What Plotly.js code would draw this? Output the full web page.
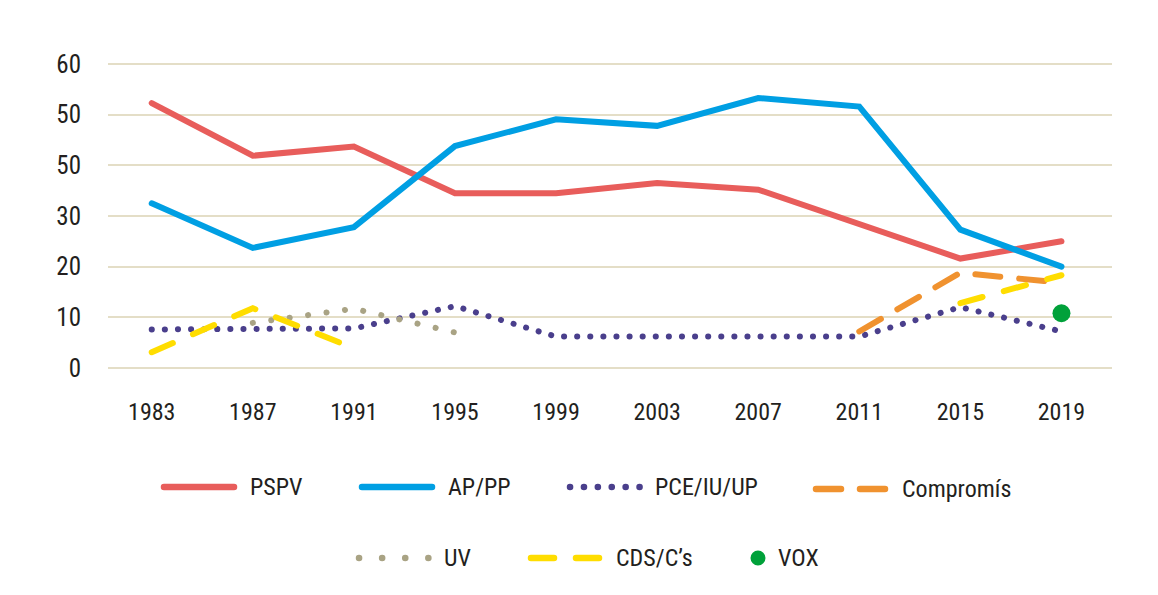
<!DOCTYPE html>
<html>
<head>
<meta charset="utf-8">
<script src="https://cdn.plot.ly/plotly-3.0.1.min.js"></script>
<style>
  html, body { margin: 0; padding: 0; background: #ffffff; }
  #chart { width: 1158px; height: 595px; }
</style>
</head>
<body>
<div id="chart"></div>
<script>
// ---- Data ----
const years = [1983, 1987, 1991, 1995, 1999, 2003, 2007, 2011, 2015, 2019];
const pspv      = [52.3, 41.9, 43.7, 34.5, 34.5, 36.5, 35.2, 28.5, 21.6, 25.0];
const appp      = [32.5, 23.7, 27.8, 43.8, 49.1, 47.8, 53.3, 51.6, 27.3, 20.0];
const pceIuUp   = [7.6, 7.7, 7.8, 12.2, 6.2, 6.2, 6.2, 6.2, 12.0, 7.2];
const uv        = [null, 8.9, 11.7, 7.0, null, null, null, null, null, null];
const compromis = [null, null, null, null, null, null, null, 7.2, 18.8, 16.8];
const cdsCs     = [3.1, 11.8, 3.9, null, null, null, null, null, 12.8, 18.3];
const vox       = [null, null, null, null, null, null, null, null, null, 10.8];

const yTickVals = [0, 10, 20, 30, 40, 50, 60];
const yTickText = ['0', '10', '20', '30', '50', '50', '60'];

const seriesNames = ['PSPV', 'AP/PP', 'PCE/IU/UP', 'Compromís', 'UV', 'CDS/C’s', 'VOX'];

// ---- Styles ----
const FONT = '"Roboto Condensed", "Liberation Sans Narrow", "DejaVu Sans Condensed", "Arial Narrow", Roboto, sans-serif';
const TXT = '#231f20';
const C = {
  pspv: '#e85d5b', appp: '#009fe3', pce: '#4a3f8c', comp: '#f0922f',
  uv: '#a9a384', cds: '#ffdd00', vox: '#00a13a'
};
const DOT_PCE = '0.1px,13px';
const DOT_UV = '0.1px,18.5px';
const DASH_CDS = '23px,22px';
const DASH_COMP = '25px,19px';

const traces = [
  {x: years, y: pspv, name: seriesNames[0], mode: 'lines', line: {color: C.pspv, width: 6}},
  {x: years, y: appp, name: seriesNames[1], mode: 'lines', line: {color: C.appp, width: 6}},
  {x: years, y: pceIuUp, name: seriesNames[2], mode: 'lines', line: {color: C.pce, width: 6, dash: DOT_PCE}},
  {x: years, y: uv, name: seriesNames[4], mode: 'lines', line: {color: C.uv, width: 6, dash: DOT_UV}},
  {x: years, y: compromis, name: seriesNames[3], mode: 'lines', line: {color: C.comp, width: 6, dash: DASH_COMP}},
  {x: years, y: cdsCs, name: seriesNames[5], mode: 'lines', line: {color: C.cds, width: 6, dash: DASH_CDS}},
  {x: years, y: vox, name: seriesNames[6], mode: 'markers', marker: {color: C.vox, size: 18}}
];

// ---- Layout geometry ----
const M = {l: 108, r: 46, t: 59, b: 222};
const W = 1158, H = 595;
const pw = W - M.l - M.r, ph = H - M.t - M.b;
const px2x = px => (px - M.l) / pw;
const py2y = py => (H - M.b - py) / ph;

// Custom legend (positions only; names/colours come from arrays above)
const legendItems = [
  {name: seriesNames[0], color: C.pspv, kind: 'line', dash: 'solid', x0: 164, x1: 234, tx: 248, y: 487},
  {name: seriesNames[1], color: C.appp, kind: 'line', dash: 'solid', x0: 362, x1: 432, tx: 446, y: 487},
  {name: seriesNames[2], color: C.pce, kind: 'line', dash: '0.1px,13.8px', x0: 570, x1: 640, tx: 653, y: 487},
  {name: seriesNames[3], color: C.comp, kind: 'line', dash: '25px,19px', x0: 816, x1: 886, tx: 900, y: 489},
  {name: seriesNames[4], color: C.uv, kind: 'line', dash: '0.1px,23px', x0: 359, x1: 428.6, tx: 442, y: 558},
  {name: seriesNames[5], color: C.cds, kind: 'line', dash: '23px,22px', x0: 531, x1: 600, tx: 614, y: 558},
  {name: seriesNames[6], color: C.vox, kind: 'dot', x0: 758, tx: 776, y: 558}
];

const shapes = [];
const annotations = [];
legendItems.forEach(it => {
  if (it.kind === 'line') {
    shapes.push({type: 'line', xref: 'paper', yref: 'paper', layer: 'above',
      x0: px2x(it.x0), x1: px2x(it.x1), y0: py2y(it.y), y1: py2y(it.y),
      line: {color: it.color, width: 6.5, dash: it.dash}});
  } else {
    shapes.push({type: 'circle', xref: 'paper', yref: 'paper', layer: 'above',
      xsizemode: 'pixel', ysizemode: 'pixel',
      xanchor: px2x(it.x0), yanchor: py2y(it.y),
      x0: -7.5, x1: 7.5, y0: -7.5, y1: 7.5,
      fillcolor: it.color, line: {width: 0}});
  }
  annotations.push({xref: 'paper', yref: 'paper', x: px2x(it.tx), y: py2y(it.y),
    xanchor: 'left', yanchor: 'middle', showarrow: false, text: it.name,
    font: {family: FONT, size: 24, color: TXT, stretch: 'condensed'}});
});

const layout = {
  width: W, height: H,
  margin: M,
  paper_bgcolor: '#ffffff', plot_bgcolor: '#ffffff',
  showlegend: false,
  font: {family: FONT, color: TXT},
  xaxis: {
    range: [1981.27, 2021.0],
    tickvals: years,
    ticktext: years.map(String),
    showgrid: false, zeroline: false, showline: false,
    ticks: '', ticklabelstandoff: 22,
    tickfont: {family: FONT, size: 24, color: TXT, stretch: 'condensed'}
  },
  yaxis: {
    range: [-1, 61],
    tickvals: yTickVals,
    ticktext: yTickText,
    showgrid: true, gridcolor: '#e4dec7', gridwidth: 2,
    zeroline: false, showline: false,
    ticks: '', ticklabelstandoff: 26,
    tickfont: {family: FONT, size: 25, color: TXT, stretch: 'condensed'}
  },
  shapes: shapes,
  annotations: annotations
};

Plotly.newPlot('chart', traces, layout, {staticPlot: true, displayModeBar: false}).then(() => {
  document.querySelectorAll('.scatterlayer path.js-line, .shapelayer path').forEach(p => {
    p.style.strokeLinecap = 'round';
  });
});
</script>
</body>
</html>
